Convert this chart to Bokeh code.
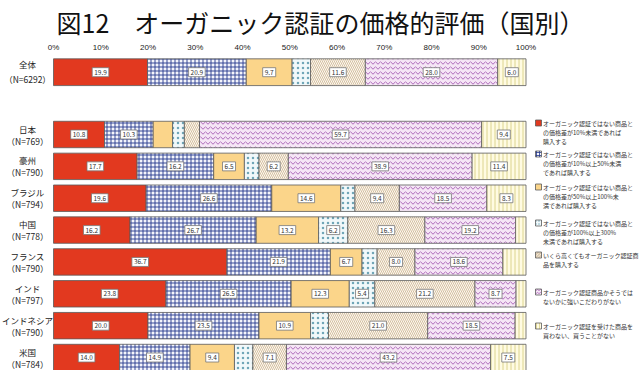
from bokeh.plotting import figure
from bokeh.models import ColumnDataSource, Range1d, FixedTicker
from bokeh.core.properties import value
from bokeh.embed import file_html
from bokeh.resources import INLINE

# ---------------- data ----------------
overall_name = "全体"
overall_n = "（N=6292）"
countries = ["日本", "豪州", "ブラジル", "中国", "フランス", "インド", "インドネシア", "米国"]
country_n = ["（N=769）", "（N=790）", "（N=794）", "（N=778）", "（N=790）", "（N=797）", "（N=790）", "（N=784）"]

# order: 全体, then countries
s1 = [19.9, 10.8, 17.7, 19.6, 16.2, 36.7, 23.8, 20.0, 14.0]
s2 = [20.9, 10.3, 16.2, 26.6, 26.7, 21.9, 26.5, 23.5, 14.9]
s3 = [9.7, 4.1, 6.5, 14.6, 13.2, 6.7, 12.3, 10.9, 9.4]
s4 = [3.9, 2.5, 3.1, 3.0, 6.2, 3.2, 5.4, 3.8, 3.9]
s5 = [11.6, 3.2, 6.2, 9.4, 16.3, 8.0, 21.2, 21.0, 7.1]
s6 = [28.0, 59.7, 38.9, 18.5, 19.2, 18.6, 8.7, 18.5, 43.2]
s7 = [6.0, 9.4, 11.4, 8.3, 2.2, 4.9, 2.1, 2.3, 7.5]

series_labels = [
    "オーガニック認証ではない商品と\nの価格差が10%未満であれば\n購入する",
    "オーガニック認証ではない商品と\nの価格差が10%以上50%未満\nであれば購入する",
    "オーガニック認証ではない商品と\nの価格差が50%以上100%未\n満であれば購入する",
    "オーガニック認証ではない商品と\nの価格差が100%以上300%\n未満であれば購入する",
    "いくら高くてもオーガニック認証商\n品を購入する",
    "オーガニック認証商品かそうでは\nないかに強いこだわりがない",
    "オーガニック認証を受けた商品を\n買わない、買うことがない",
]

tick_values = [0, 10, 20, 30, 40, 50, 60, 70, 80, 90, 100]
tick_labels = ["0%", "10%", "20%", "30%", "40%", "50%", "60%", "70%", "80%", "90%", "100%"]

title_text = "図12　オーガニック認証の価格的評価（国別）"

# ---------------- styles ----------------
styles = [
    dict(fill_color="#e2391f", hatch_pattern=None, hatch_color=None, scale=5, weight=0.9),
    dict(fill_color="#f4f5fb", hatch_pattern="cross", hatch_color="#24378c", scale=4, weight=0.9),
    dict(fill_color="#fbd58a", hatch_pattern=None, hatch_color=None, scale=5, weight=0.9),
    dict(fill_color="#f1f8fa", hatch_pattern="dot", hatch_color="#6fa6b8", scale=5, weight=0.9),
    dict(fill_color="#fdf8f0", hatch_pattern="left_diagonal_line", hatch_color="#c2a77f", scale=4, weight=0.7),
    dict(fill_color="#f5e6f5", hatch_pattern="horizontal_wave", hatch_color="#a55bb3", scale=5, weight=0.9),
    dict(fill_color="#fffbe2", hatch_pattern="vertical_line", hatch_color="#d8cf86", scale=4, weight=0.9),
]
FONT = "Noto Sans CJK JP"

# ---------------- layout geometry ----------------
W, H = 640, 370
FRAME_TOP = 54          # px from top of figure to frame top
ROW_PX = 31.86          # px per row unit
FIRST_ROW = 134.0       # y of first country row centre
PX_PER_PCT = 4.725
ZERO_X = 53.0

x0 = (0 - ZERO_X) / PX_PER_PCT
x1 = (W - ZERO_X) / PX_PER_PCT
y_top = 1 + (FRAME_TOP - FIRST_ROW) / ROW_PX
y_bot = 1 + (H - FIRST_ROW) / ROW_PX

row_y = [1 + (71.7 - FIRST_ROW) / ROW_PX] + [i + 1 for i in range(len(countries))]
row_h = [0.84] + [0.83] * len(countries)

p = figure(width=W, height=H, x_range=Range1d(x0, x1), y_range=Range1d(y_bot, y_top),
           output_backend="svg", toolbar_location=None, x_axis_location="above",
           min_border=0, min_border_top=FRAME_TOP)
p.outline_line_color = None
p.grid.visible = False
p.yaxis.visible = False
p.background_fill_color = "white"

xa = p.xaxis[0]
xa.ticker = FixedTicker(ticks=tick_values)
xa.major_label_overrides = {v: l for v, l in zip(tick_values, tick_labels)}
xa.axis_line_color = None
xa.major_tick_line_color = None
xa.minor_tick_line_color = None
xa.major_tick_out = 0
xa.major_tick_in = 0
xa.major_label_standoff = 3
xa.major_label_text_font = "Liberation Sans"
xa.major_label_text_font_size = "8px"
xa.major_label_text_color = "#222222"

p.title.text = title_text
p.title.align = "center"
p.title.text_font = FONT
p.title.text_font_size = "25px"
p.title.text_font_style = "normal"
p.title.text_color = "#111111"
p.title.standoff = 0
p.title.offset = 0

series = [s1, s2, s3, s4, s5, s6, s7]
left = [0.0] * len(row_y)
for k, (vals, st) in enumerate(zip(series, styles)):
    right = [l + v for l, v in zip(left, vals)]
    src = ColumnDataSource(dict(y=row_y, left=left, right=right, h=row_h, v=vals))
    kw = dict(fill_color=st["fill_color"], line_color="#5a5a5a", line_width=0.8)
    if st["hatch_pattern"]:
        kw.update(hatch_pattern=st["hatch_pattern"], hatch_color=st["hatch_color"],
                  hatch_scale=st["scale"], hatch_weight=st["weight"])
    p.hbar(y="y", left="left", right="right", height="h", source=src, **kw)
    # value labels (shown for segments >= 5%)
    mids = [(l + r) / 2 for l, r, v in zip(left, right, vals) if v >= 5]
    ys = [y for y, v in zip(row_y, vals) if v >= 5]
    txt = [f"{v:.1f}" for v in vals if v >= 5]
    p.text(x=mids, y=ys, text=txt, text_align="center", text_baseline="middle",
           text_font=value(FONT), text_font_size="6.5px", text_color="#333333",
           background_fill_color="white", border_line_color="#777777",
           border_line_width=0.8, padding=2)
    left = right

# category labels
name_all = [overall_name] + countries
n_all = [overall_n] + country_n
lab_x = [(27 - ZERO_X) / PX_PER_PCT] * len(row_y)
off1 = [-8] + [-6] * len(countries)
off2 = [7] + [6] * len(countries)
p.text(x=lab_x, y=row_y, text=name_all, y_offset=off1, text_align="center",
       text_baseline="middle", text_font=value(FONT), text_font_size="8.5px", text_color="#222222")
p.text(x=lab_x, y=row_y, text=n_all, y_offset=off2, text_align="center",
       text_baseline="middle", text_font=value(FONT), text_font_size="8.5px", text_color="#222222")

# legend (manual)
leg_pos = [125, 156, 189, 225, 257, 294, 328]
leg_y = [1 + (v - FIRST_ROW) / ROW_PX for v in leg_pos]
sq_l = (535.0 - ZERO_X) / PX_PER_PCT
sq_r = (541.0 - ZERO_X) / PX_PER_PCT
tx = (542.5 - ZERO_X) / PX_PER_PCT
for ly, st in zip(leg_y, styles):
    kw = dict(fill_color=st["fill_color"], line_color="#5a5a5a", line_width=0.8)
    if st["hatch_pattern"]:
        kw.update(hatch_pattern=st["hatch_pattern"], hatch_color=st["hatch_color"],
                  hatch_scale=3, hatch_weight=0.8)
    p.hbar(y=[ly], left=[sq_l], right=[sq_r], height=6 / ROW_PX, y_offset=0, **kw) if False else \
        p.hbar(y=[ly - 2.5 / ROW_PX], left=[sq_l], right=[sq_r], height=6 / ROW_PX, **kw)
p.text(x=[tx] * len(leg_y), y=leg_y, text=series_labels, text_align="left",
       text_baseline="top", y_offset=-7, text_font=value(FONT), text_font_size="6.0px",
       text_line_height=1.02, text_color="#333333")

open("out.html", "w").write(file_html(p, INLINE))
